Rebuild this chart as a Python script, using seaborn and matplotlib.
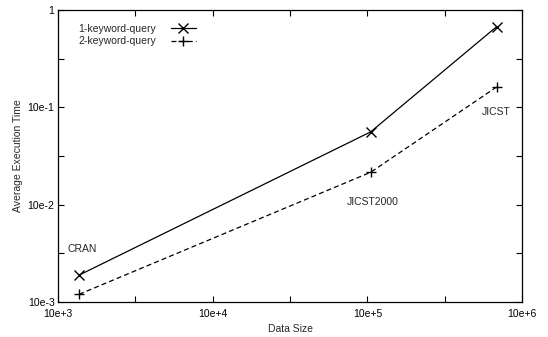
import matplotlib
matplotlib.use("Agg")
import matplotlib.pyplot as plt
import numpy as np
import pandas as pd
import seaborn as sns

# values (log-log)
datasets = ["CRAN", "JICST2000", "JICST"]
data_size = [1370, 105000, 686000]
time_1kw = [0.00189, 0.0559, 0.675]
time_2kw = [0.00120, 0.0215, 0.162]

x_ticks = [1e3, 10 ** 3.5, 1e4, 10 ** 4.5, 1e5, 10 ** 5.5, 1e6]
x_labels = ["10e+3", "", "10e+4", "", "10e+5", "", "10e+6"]
y_ticks = [1e-3, 10 ** -2.5, 1e-2, 10 ** -1.5, 1e-1, 10 ** -0.5, 1]
y_labels = ["10e-3", "", "10e-2", "", "10e-1", "", "1"]

df = pd.DataFrame({
    "size": data_size * 2,
    "time": time_1kw + time_2kw,
    "query": ["1-keyword-query"] * 3 + ["2-keyword-query"] * 3,
})

sns.set_style("ticks")
plt.rcParams["font.family"] = ["Liberation Sans", "DejaVu Sans"]
plt.rcParams["font.size"] = 7.5

fig = plt.figure(figsize=(5.48, 3.37), dpi=100)
ax = fig.add_axes([58 / 548, 1 - 302 / 337, (522 - 58) / 548, (302 - 10) / 337])

sns.lineplot(
    data=df, x="size", y="time", style="query", ax=ax,
    markers={"1-keyword-query": "x", "2-keyword-query": "+"},
    dashes={"1-keyword-query": "", "2-keyword-query": (4, 2.5)},
    color="black", linewidth=0.9, markersize=7, markeredgewidth=1.0,
    markeredgecolor="black", legend=True,
)
ax.set_xscale("log")
ax.set_yscale("log")
ax.set_xlim(1e3, 1e6)
ax.set_ylim(1e-3, 1)
ax.minorticks_off()
ax.set_xticks(x_ticks, x_labels)
ax.set_yticks(y_ticks, y_labels)
ax.minorticks_off()
ax.tick_params(direction="in", top=True, right=True, length=4, width=0.8,
               labelsize=7.5, colors="black")
ax.tick_params(axis="x", pad=5)
ax.tick_params(axis="y", pad=2.5)
for s in ax.spines.values():
    s.set_linewidth(0.9)
    s.set_color("black")

ax.set_xlabel("Data Size", fontsize=7.5, labelpad=4)
ax.set_ylabel("Average Execution Time", fontsize=7.5, labelpad=3)

leg = ax.legend(
    loc="upper left", bbox_to_anchor=(0.03, 0.975), frameon=False,
    markerfirst=False, handlelength=2.4, handletextpad=1.4, fontsize=7.5,
    labelspacing=0.25, borderaxespad=0.2, title=None,
)

# dataset annotations
ax.text(1430, 0.00351, datasets[0], fontsize=7.5, va="center", ha="center")
ax.text(1.08e5, 0.0106, datasets[1], fontsize=7.5, va="center", ha="center")
ax.text(6.8e5, 0.0895, datasets[2], fontsize=7.5, va="center", ha="center")

fig.savefig("out.png", dpi=100)
